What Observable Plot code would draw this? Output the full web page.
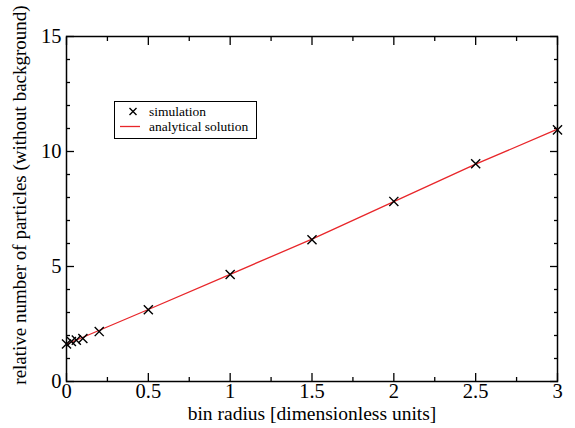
<!DOCTYPE html>
<html>
<head>
<meta charset="utf-8">
<script src="https://cdn.jsdelivr.net/npm/d3@7"></script>
<script src="https://cdn.jsdelivr.net/npm/@observablehq/plot@0.6"></script>
<style>
  html, body { margin: 0; padding: 0; background: #fff; }
  #wrap { position: relative; width: 575px; height: 428px; }
  #legend { position: absolute; left: 114px; top: 101px; width: 141px; height: 36px; border: 1px solid #000; background: #fff;
    font-family: "Liberation Serif", "Times New Roman", serif; font-size: 13.5px; color: #000; }
  .row { position: absolute; left: 0; height: 15px; line-height: 15px; white-space: nowrap; }
  .row svg { position: absolute; left: 5px; top: 0; }
  .row span { position: absolute; left: 34px; top: 0; }
</style>
</head>
<body>
<div id="wrap"></div>
<script>
// simulation points
const simX = [0, 0.03, 0.06, 0.1, 0.2, 0.5, 1, 1.5, 2, 2.5, 3];
const simY = [1.63, 1.74, 1.8, 1.87, 2.17, 3.12, 4.65, 6.16, 7.83, 9.47, 10.94];
// analytical solution
const anaX = [0, 0.5, 1, 1.5, 2, 2.5, 3];
const anaY = [1.62, 3.13, 4.66, 6.19, 7.82, 9.45, 10.97];
// ticks
const xMajor = [0, 0.5, 1, 1.5, 2, 2.5, 3];
const xMinor = [0.25, 0.75, 1.25, 1.75, 2.25, 2.75];
const yMajor = [0, 5, 10, 15];
const yMinor = [1, 2, 3, 4, 6, 7, 8, 9, 11, 12, 13, 14];
const xLabel = "bin radius [dimensionless units]";
const yLabel = "relative number of particles (without background)";
const legendLabels = ["simulation", "analytical solution"];

const sim = simX.map((x, i) => ({x, y: simY[i]}));
const ana = anaX.map((x, i) => ({x, y: anaY[i]}));
const serif = "Liberation Serif, Times New Roman, serif";
const blank = () => "";
const fmt = d => String(d);

const chart = Plot.plot({
  width: 575,
  height: 428,
  marginLeft: 66,
  marginRight: 18,
  marginTop: 36,
  marginBottom: 47,
  style: {fontFamily: serif, fontSize: "21px", color: "#000", background: "#fff"},
  x: {domain: [0, 3]},
  y: {domain: [0, 15]},
  marks: [
    Plot.frame({stroke: "#000", strokeWidth: 1.5}),
    // tick labels
    Plot.axisX({anchor: "bottom", ticks: xMajor, tickSize: 0, tickPadding: 2, tickFormat: fmt, label: null, fontSize: 20.5, fontFamily: serif}),
    Plot.axisY({anchor: "left", ticks: yMajor, tickSize: 0, tickPadding: 5, tickFormat: fmt, label: null, fontSize: 20.5, fontFamily: serif}),
    // inward ticks on all four sides
    Plot.axisX({anchor: "bottom", ticks: xMajor, tickSize: -8, tickFormat: blank, label: null, strokeWidth: 1.3}),
    Plot.axisX({anchor: "bottom", ticks: xMinor, tickSize: -4, tickFormat: blank, label: null, strokeWidth: 1.3}),
    Plot.axisX({anchor: "top", ticks: xMajor, tickSize: -8, tickFormat: blank, label: null, strokeWidth: 1.3}),
    Plot.axisX({anchor: "top", ticks: xMinor, tickSize: -4, tickFormat: blank, label: null, strokeWidth: 1.3}),
    Plot.axisY({anchor: "left", ticks: yMajor, tickSize: -8, tickFormat: blank, label: null, strokeWidth: 1.3}),
    Plot.axisY({anchor: "left", ticks: yMinor, tickSize: -4, tickFormat: blank, label: null, strokeWidth: 1.3}),
    Plot.axisY({anchor: "right", ticks: yMajor, tickSize: -8, tickFormat: blank, label: null, strokeWidth: 1.3}),
    Plot.axisY({anchor: "right", ticks: yMinor, tickSize: -4, tickFormat: blank, label: null, strokeWidth: 1.3}),
    // data
    Plot.line(ana, {x: "x", y: "y", stroke: "#e8262a", strokeWidth: 1.3}),
    Plot.dot(sim, {x: "x", y: "y", symbol: "times", r: 4.2, stroke: "#000", strokeWidth: 1.4}),
    // axis labels
    Plot.text([xLabel], {text: d => d, frameAnchor: "bottom", dy: 32, fontSize: 19.5, fontFamily: serif, lineAnchor: "middle", textAnchor: "middle", fill: "#000"}),
    Plot.text([yLabel], {text: d => d, frameAnchor: "left", dx: -47, dy: -14, rotate: -90, fontSize: 19, fontFamily: serif, lineAnchor: "middle", textAnchor: "middle", fill: "#000"})
  ]
});

const wrap = document.getElementById("wrap");
wrap.appendChild(chart);

const legend = document.createElement("div");
legend.id = "legend";
legend.innerHTML = `
  <div class="row" style="top:2px;width:100%">
    <svg width="24" height="15"><path d="M9.5,4L16.5,11M16.5,4L9.5,11" stroke="#000" stroke-width="1.4"/></svg>
    <span>${legendLabels[0]}</span>
  </div>
  <div class="row" style="top:17px;width:100%">
    <svg width="24" height="15"><line x1="0" y1="7.5" x2="20" y2="7.5" stroke="#e8262a" stroke-width="1.3"/></svg>
    <span>${legendLabels[1]}</span>
  </div>`;
wrap.appendChild(legend);
</script>
</body>
</html>
